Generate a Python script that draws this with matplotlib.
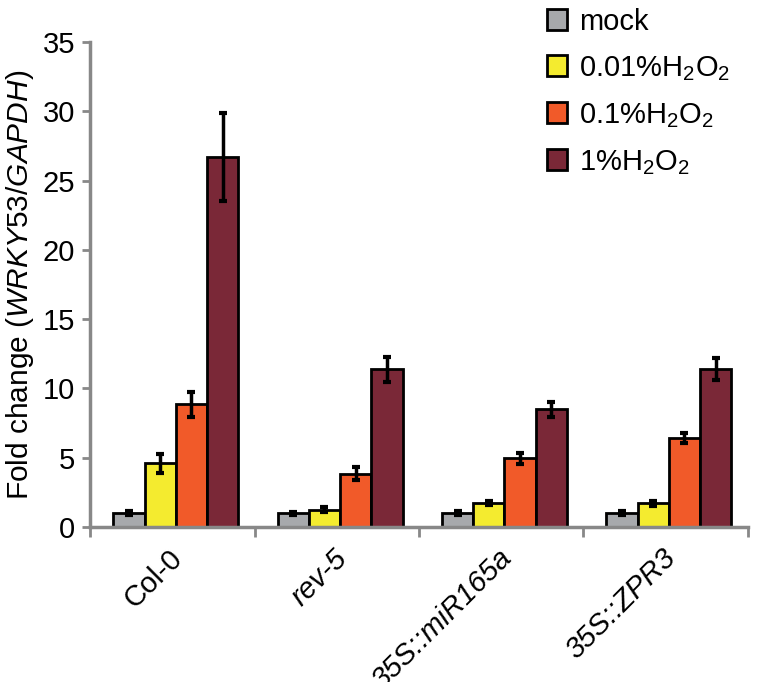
import numpy as np
import matplotlib
matplotlib.use("Agg")
import matplotlib.pyplot as plt
from matplotlib.transforms import offset_copy

plt.rcParams['font.family'] = ['Liberation Sans', 'DejaVu Sans']
plt.rcParams['mathtext.fontset'] = 'custom'
plt.rcParams['mathtext.rm'] = 'Liberation Sans'
plt.rcParams['mathtext.it'] = 'Liberation Sans:italic'

# data
genotypes = ['Col-0', 'rev-5', '35S::miR165a', '35S::ZPR3']
italic_label = [False, True, True, True]
treatments = ['mock', '0.01%H$_2$O$_2$', '0.1%H$_2$O$_2$', '1%H$_2$O$_2$']
mock = [1.0, 1.0, 1.0, 1.0]
h2o2_001 = [4.6, 1.25, 1.72, 1.72]
h2o2_01 = [8.85, 3.85, 4.95, 6.4]
h2o2_1 = [26.7, 11.4, 8.5, 11.4]
err_mock = [0.12, 0.1, 0.12, 0.12]
err_001 = [0.7, 0.17, 0.15, 0.18]
err_01 = [0.9, 0.45, 0.42, 0.35]
err_1 = [3.2, 0.9, 0.55, 0.8]

values = [mock, h2o2_001, h2o2_01, h2o2_1]
errors = [err_mock, err_001, err_01, err_1]
colors = ['#A7A9AC', '#F4EB2F', '#F15A29', '#7A2837']

fig = plt.figure(figsize=(7.59, 6.82), dpi=100)
ax = fig.add_axes([0.119, 0.2273, 0.866, 0.711])

x = np.arange(len(genotypes))
w = 0.19
bars = []
for i in range(4):
    pos = x + (i - 1.5) * w + 0.02
    b = ax.bar(pos, values[i], w, color=colors[i], edgecolor='black',
               linewidth=2, label=treatments[i], zorder=2)
    ax.errorbar(pos, values[i], yerr=errors[i], fmt='none', ecolor='black',
                elinewidth=2.5, capsize=3, capthick=3, zorder=3)
    bars.append(b)

ax.set_xlim(-0.5, 3.5)
ax.set_ylim(0, 35)
ax.set_yticks(np.arange(0, 36, 5))
ax.tick_params(axis='y', labelsize=21, length=6, width=2, color='#888888', pad=5)
ax.set_xticks(np.arange(-0.5, 3.6, 1))
ax.set_xticklabels([])
ax.tick_params(axis='x', length=7, width=2, color='#888888')

for s in ['top', 'right']:
    ax.spines[s].set_visible(False)
for s in ['left', 'bottom']:
    ax.spines[s].set_color('#888888')
    ax.spines[s].set_linewidth(2.5)

ax.set_ylabel(r'Fold change ($\mathit{WRKY53/GAPDH}$)', fontsize=21.5, labelpad=5)

# rotated group labels, right end just right of the group centre
trans = offset_copy(ax.get_xaxis_transform(), fig=fig, x=-4, y=-17, units='dots')
for xi, name, it in zip(x, genotypes, italic_label):
    ax.text(xi, 0, name, transform=trans, rotation=45, ha='right', va='top',
            rotation_mode='anchor', fontsize=21,
            style='italic' if it else 'normal')

leg = fig.legend(handles=bars, labels=treatments, loc='upper left',
                 bbox_to_anchor=(547 / 759, 1 - 8 / 682), frameon=False,
                 fontsize=21, borderpad=0, borderaxespad=0,
                 handlelength=0.69, handleheight=0.72, handletextpad=0.4,
                 labelspacing=0.62)

fig.savefig('out.png', dpi=100)
